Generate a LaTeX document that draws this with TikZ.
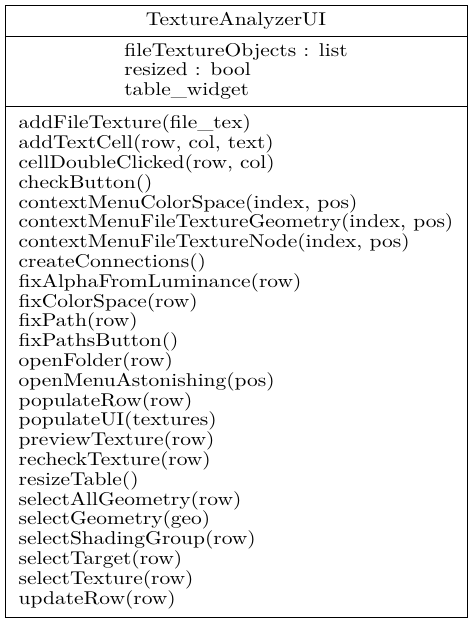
\documentclass[tikz,border=0pt]{standalone}
\usepackage{fontspec}
\setmainfont{lmroman10-regular}[Extension=.otf, FakeStretch=1.16]
\usetikzlibrary{positioning}
\tikzset{
compart/.style = {draw, align=left, rectangle, minimum width=462pt, inner sep=0pt, outer sep=0pt, font=\fontsize{18.5}{19.8}\selectfont},
}
\begin{document}
\begin{tikzpicture}[node distance = 0pt, line width=0.8pt]

	\useasboundingbox (0,0) rectangle (472pt,-624pt);
	\node[compart, minimum height=31pt, anchor=north west] (title) at (5pt,-5pt) {TextureAnalyzerUI};
	\node[compart, minimum height=70.7pt, below =of title] (attrs) {fileTextureObjects : list\\resized : bool\\table\_widget};
	\node[compart, minimum height=510.3pt, below =of attrs] (methods) {addFileTexture(file\_tex)\\addTextCell(row, col, text)\\cellDoubleClicked(row, col)\\checkButton()\\contextMenuColorSpace(index, pos)\\contextMenuFileTextureGeometry(index, pos)\\contextMenuFileTextureNode(index, pos)\\createConnections()\\fixAlphaFromLuminance(row)\\fixColorSpace(row)\\fixPath(row)\\fixPathsButton()\\openFolder(row)\\openMenuAstonishing(pos)\\populateRow(row)\\populateUI(textures)\\previewTexture(row)\\recheckTexture(row)\\resizeTable()\\selectAllGeometry(row)\\selectGeometry(geo)\\selectShadingGroup(row)\\selectTarget(row)\\selectTexture(row)\\updateRow(row)};

\end{tikzpicture}
\end{document}
